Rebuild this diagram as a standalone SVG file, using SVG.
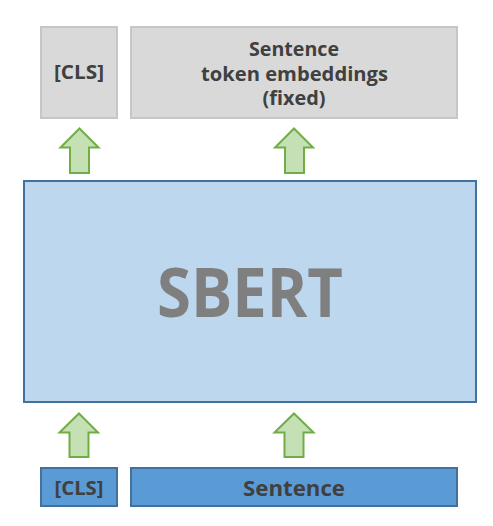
<svg xmlns="http://www.w3.org/2000/svg" width="493" height="526" viewBox="0 0 493 526">
<style>
.out{fill:#d9d9d9;stroke:#c6c6c6;stroke-width:2}
.inp{fill:#5b9bd5;stroke:#41719c;stroke-width:2}
.arrow{fill:#c5e0b4;stroke:#70ad47;stroke-width:2;stroke-linejoin:miter}
text{font-family:"Open Sans","Noto Sans","Liberation Sans",sans-serif;font-weight:bold;text-anchor:middle;fill:#404040}
</style>
<rect width="493" height="526" fill="#ffffff"/>
<g id="out-cls">
<rect class="out" x="41" y="27" width="76" height="91"/>
<text x="79" y="79" font-size="19" textLength="50" lengthAdjust="spacingAndGlyphs">[CLS]</text>
</g>
<g id="out-sentence">
<rect class="out" x="131" y="27" width="326" height="91"/>
<text x="294" y="56" font-size="19" textLength="90" lengthAdjust="spacingAndGlyphs">Sentence</text>
<text x="294.5" y="80.5" font-size="19" textLength="187" lengthAdjust="spacingAndGlyphs">token embeddings</text>
<text x="294" y="105" font-size="19" textLength="63" lengthAdjust="spacingAndGlyphs">(fixed)</text>
</g>
<g id="sbert">
<rect x="24" y="181" width="452" height="221" fill="#bdd7ee" stroke="#41719c" stroke-width="2"/>
<text x="250" y="317" font-size="68" style="fill:#7f7f7f" textLength="186" lengthAdjust="spacingAndGlyphs">SBERT</text>
</g>
<g id="in-cls">
<rect class="inp" x="41" y="468" width="76" height="38"/>
<text x="79" y="495" font-size="20" textLength="49" lengthAdjust="spacingAndGlyphs">[CLS]</text>
</g>
<g id="in-sentence">
<rect class="inp" x="131" y="468" width="326" height="38"/>
<text x="294" y="496" font-size="21" textLength="102" lengthAdjust="spacingAndGlyphs">Sentence</text>
</g>
<g id="connectors">
<polygon class="arrow" points="79.5,128.5 98.5,147.5 89,147.5 89,173 70,173 70,147.5 60.5,147.5"/>
<polygon class="arrow" points="294,128.5 313,147.5 304,147.5 304,173 285,173 285,147.5 275,147.5"/>
<polygon class="arrow" points="79,413.5 98,432.5 88.5,432.5 88.5,457 69.5,457 69.5,432.5 59.5,432.5"/>
<polygon class="arrow" points="294,413.5 313.5,432.5 303.5,432.5 303.5,457 284.5,457 284.5,432.5 274.5,432.5"/>
</g>
</svg>
